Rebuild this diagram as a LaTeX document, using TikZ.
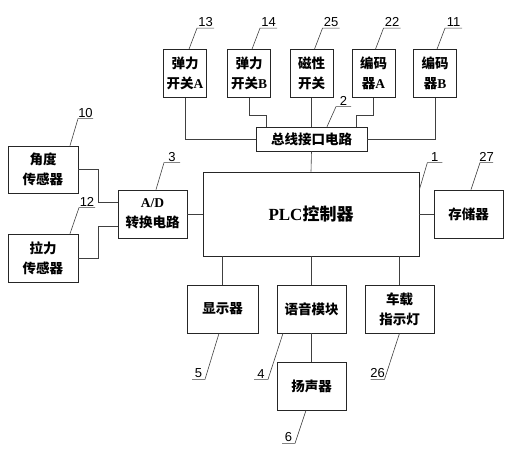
\documentclass[tikz,border=0pt]{standalone}
\usepackage{fontspec}
\setmainfont{Liberation Serif}
\setsansfont{Liberation Sans}
\newfontfamily\cjk{Noto Sans CJK SC}
\tikzset{
  blk/.style={draw=black!85, line width=0.7pt, minimum width=43pt, minimum height=48pt,
    inner sep=0pt, align=center, font=\cjk\bfseries\fontsize{13.5}{20}\selectfont},
  wire/.style={draw=black!75, line width=0.6pt},
  num/.style={font=\sffamily\fontsize{13}{13}\selectfont, inner sep=1pt, above},
}
\begin{document}
\begin{tikzpicture}[x=1pt, y=-1pt]
\useasboundingbox (0,0) rectangle (509,455);
\node[blk] (swA) at (185,73.5) {弹力\\开关\textrm{A}}; % top row
\node[blk] (swB) at (249,73.5) {弹力\\开关\textrm{B}};
\node[blk] (mag) at (311.5,73.5) {磁性\\开关};
\node[blk] (encA) at (373.5,73.5) {编码\\器\textrm{A}};
\node[blk] (encB) at (435,73.5) {编码\\器\textrm{B}};
\node[blk, minimum width=111pt, minimum height=24pt] (bus) at (311.5,139) {总线接口电路};
\node[blk, minimum width=216pt, minimum height=84pt, font=\cjk\bfseries\fontsize{17}{20}\selectfont] (plc) at (311,214) {\textrm{PLC}控制器}; % controller
\node[blk, minimum width=69pt] (mem) at (468.5,214) {存储器};
\node[blk, minimum width=70pt, minimum height=47pt] (ang) at (43,169.5) {角度\\传感器}; % left
\node[blk, minimum width=70pt] (pull) at (43,258) {拉力\\传感器};
\node[blk, minimum width=69pt] (ad) at (152.5,214) {\textrm{A/D}\\转换电路};
\node[blk, minimum width=71pt] (disp) at (222.5,309) {显示器}; % bottom row
\node[blk, minimum width=69pt] (voice) at (311.5,309) {语音模块};
\node[blk, minimum width=69pt] (lamp) at (399.5,309) {车载\\指示灯};
\node[blk, minimum width=69pt] (spk) at (311.5,386) {扬声器};

% wires
\draw[wire] (swA.south) |- (bus.west);
\draw[wire] (swB.south) -- ++(0,17) -| ([xshift=-45pt]bus.north);
\draw[wire] (mag.south) -- (bus.north);
\draw[wire] (encA.south) -- ++(0,17) -| ([xshift=45pt]bus.north);
\draw[wire] (encB.south) |- (bus.east);
\draw[wire] (bus.south) -- (plc.north);
\draw[wire] (ang.east) -- ++(20,0) |- ([yshift=12pt]ad.west);
\draw[wire] (pull.east) -- ++(20,0) |- ([yshift=-12pt]ad.west);
\draw[wire] (ad.east) -- (plc.west);
\draw[wire] (plc.east) -- (mem.west);
\draw[wire] (plc.south -| disp.north) -- (disp.north);
\draw[wire] (plc.south -| voice.north) -- (voice.north);
\draw[wire] (plc.south -| lamp.north) -- (lamp.north);
\draw[wire] (voice.south) -- (spk.north);

% part numbers
\draw[wire] ([xshift=4pt]swA.north) -- ++(8,-21) -- ++(17,0) node[num, midway] (n13) {13};
\draw[wire] ([xshift=3pt]swB.north) -- ++(8,-21) -- ++(17,0) node[num, midway] (n14) {14};
\draw[wire] ([xshift=3pt]mag.north) -- ++(8,-21) -- ++(17,0) node[num, midway] (n25) {25};
\draw[wire] ([xshift=2pt]encA.north) -- ++(8,-21) -- ++(17,0) node[num, midway] (n22) {22};
\draw[wire] ([xshift=2pt]encB.north) -- ++(8,-21) -- ++(17,0) node[num, midway] (n11) {11};
\draw[wire] ([xshift=15.5pt]bus.north) -- ++(9,-20) -- ++(15,0) node[num, midway] (n2) {2};
\draw[wire] ([yshift=-18pt]plc.north east) -- ++(8,-27) -- ++(15,0) node[num, midway] (n1) {1};
\draw[wire] ([xshift=2.5pt]mem.north) -- ++(9,-27) -- ++(13,0) node[num, midway] (n27) {27};
\draw[wire] ([xshift=27pt]ang.north) -- ++(8,-27) -- ++(15,0) node[num, midway] (n10) {10};
\draw[wire] ([xshift=3.5pt]ad.north) -- ++(8,-27) -- ++(16,0) node[num, midway] (n3) {3};
\draw[wire] ([xshift=27pt]pull.north) -- ++(9,-26) -- ++(16,0) node[num, midway] (n12) {12};
\draw[wire] ([xshift=-3.5pt]disp.south) -- ++(-14,46) -- ++(-13,0) node[num, midway] (n5) {5};
\draw[wire] ([xshift=-28.5pt]voice.south) -- ++(-15,46) -- ++(-14,0) node[num, midway] (n4) {4};
\draw[wire] (lamp.south) -- ++(-15,46) -- ++(-14,0) node[num, midway] (n26) {26};
\draw[wire] ([xshift=-5.5pt]spk.south) -- ++(-11,33) -- ++(-13,0) node[num, midway] (n6) {6};
\end{tikzpicture}
\end{document}
